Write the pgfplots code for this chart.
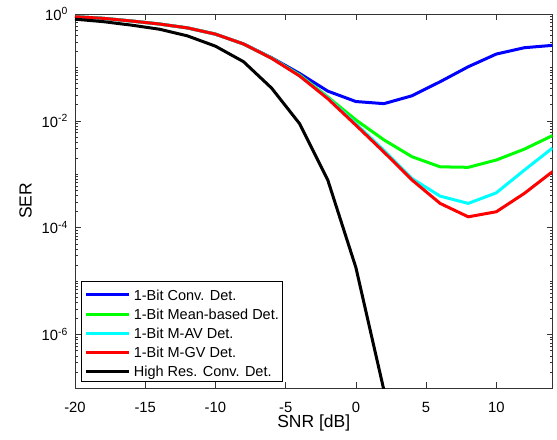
\documentclass[border=0pt]{standalone}
\usepackage{fontspec}
\setmainfont{Liberation Sans}
\usepackage{pgfplots}
\pgfplotsset{compat=1.18}
\definecolor{mgreen}{rgb}{0,1,0}
\definecolor{mcyan}{rgb}{0,1,1}
\definecolor{mblue}{rgb}{0,0,1}
\definecolor{mred}{rgb}{1,0,0}
\newcommand{\mfont}{\fontsize{14.8bp}{17bp}\selectfont}
\newcommand{\lfont}{\fontsize{17.5bp}{20bp}\selectfont}

\pgfplotstableread{
x blue green cyan red black
-20 0.89 0.89 0.89 0.89 0.80
-18 0.83 0.83 0.83 0.83 0.72
-16 0.74 0.74 0.74 0.74 0.62
-14 0.65 0.65 0.65 0.65 0.52
-12 0.55 0.55 0.55 0.55 0.39
-10 0.42 0.42 0.42 0.42 0.25
-8 0.275 0.275 0.275 0.275 0.128
-6 0.152 0.150 0.149 0.148 0.041
-4 0.077 0.072 0.070 0.069 0.0088
-2 0.036 0.028 0.027 0.026 0.00078
0 0.023 0.0104 0.0088 0.0083 0.000018
2 0.021 0.0044 0.0028 0.0026 0.00000009
4 0.0295 0.00213 0.00083 0.00078 nan
6 0.054 0.00138 0.00039 0.000285 nan
8 0.103 0.00135 0.000285 0.000160 nan
10 0.178 0.00185 0.00045 0.000199 nan
12 0.234 0.00296 0.0012 0.00044 nan
14 0.259 0.0053 0.0031 0.00112 nan
}\datatable

\begin{document}
\begin{tikzpicture}
\useasboundingbox (-75bp,-52bp) rectangle (482bp,388bp);
\begin{axis}[
  at={(0,0)}, anchor=south west,
  scale only axis, width=477.5bp, height=374bp,
  font=\mfont,
  ymode=log,
  xmin=-20, xmax=14, ymin=1e-7, ymax=1,
  xtick={-20,-15,-10,-5,0,5,10},
  xticklabels={-20,-15,-10,-5,0,5,10},
  ytick={1e-6,1e-4,1e-2,1},
  yticklabels={10\textsuperscript{-6},10\textsuperscript{-4},10\textsuperscript{-2},10\textsuperscript{0}},
  minor ytick={2e-7,3e-7,4e-7,5e-7,6e-7,7e-7,8e-7,9e-7,
    2e-6,3e-6,4e-6,5e-6,6e-6,7e-6,8e-6,9e-6,1e-5,
    2e-5,3e-5,4e-5,5e-5,6e-5,7e-5,8e-5,9e-5,
    2e-4,3e-4,4e-4,5e-4,6e-4,7e-4,8e-4,9e-4,1e-3,
    2e-3,3e-3,4e-3,5e-3,6e-3,7e-3,8e-3,9e-3,
    2e-2,3e-2,4e-2,5e-2,6e-2,7e-2,8e-2,9e-2,1e-1,
    2e-1,3e-1,4e-1,5e-1,6e-1,7e-1,8e-1,9e-1},
  tick pos=both,
  tick align=inside,
  major tick length=6bp,
  minor tick length=3bp,
  axis line style={draw=black!80, line width=0.6bp},
  every tick/.style={draw=black!80, line width=0.6bp},
  xticklabel style={anchor=north, inner sep=0pt, yshift=-14bp},
  yticklabel style={anchor=east, inner sep=0pt, xshift=-7bp},
  xlabel={\lfont SNR [dB]},
  ylabel={\lfont SER},
  xlabel style={at={(rel axis cs:0.5,0)}, anchor=north, inner sep=0pt, yshift=-27bp},
  ylabel style={at={(rel axis cs:0,0.5)}, anchor=south, inner sep=0pt, yshift=43bp},
  every axis plot/.append style={line width=3bp, line join=round},
  legend cell align=left,
  legend image code/.code={\draw[#1] (0bp,5.2bp) -- (43bp,5.2bp);},
  legend style={at={(0.0126,0.0168)}, anchor=south west,
    draw=black, line width=0.6bp, fill=white,
    font=\fontsize{14.5bp}{17bp}\selectfont,
    inner xsep=3.5bp, inner ysep=3bp, row sep=2bp, column sep=3bp,
    nodes={inner sep=0pt, text height=15.7bp, text depth=1.5bp, anchor=base west}},
]
\addplot[mblue] table[x=x, y=blue] {\datatable};
\addlegendentry{1-Bit Conv. Det.}
\addplot[mgreen] table[x=x, y=green] {\datatable};
\addlegendentry{1-Bit Mean-based Det.}
\addplot[mcyan] table[x=x, y=cyan] {\datatable};
\addlegendentry{1-Bit M-AV Det.}
\addplot[mred] table[x=x, y=red] {\datatable};
\addlegendentry{1-Bit M-GV Det.}
\addplot[black] table[x=x, y=black] {\datatable};
\addlegendentry{High Res. Conv. Det.}
\end{axis}
\end{tikzpicture}
\end{document}
